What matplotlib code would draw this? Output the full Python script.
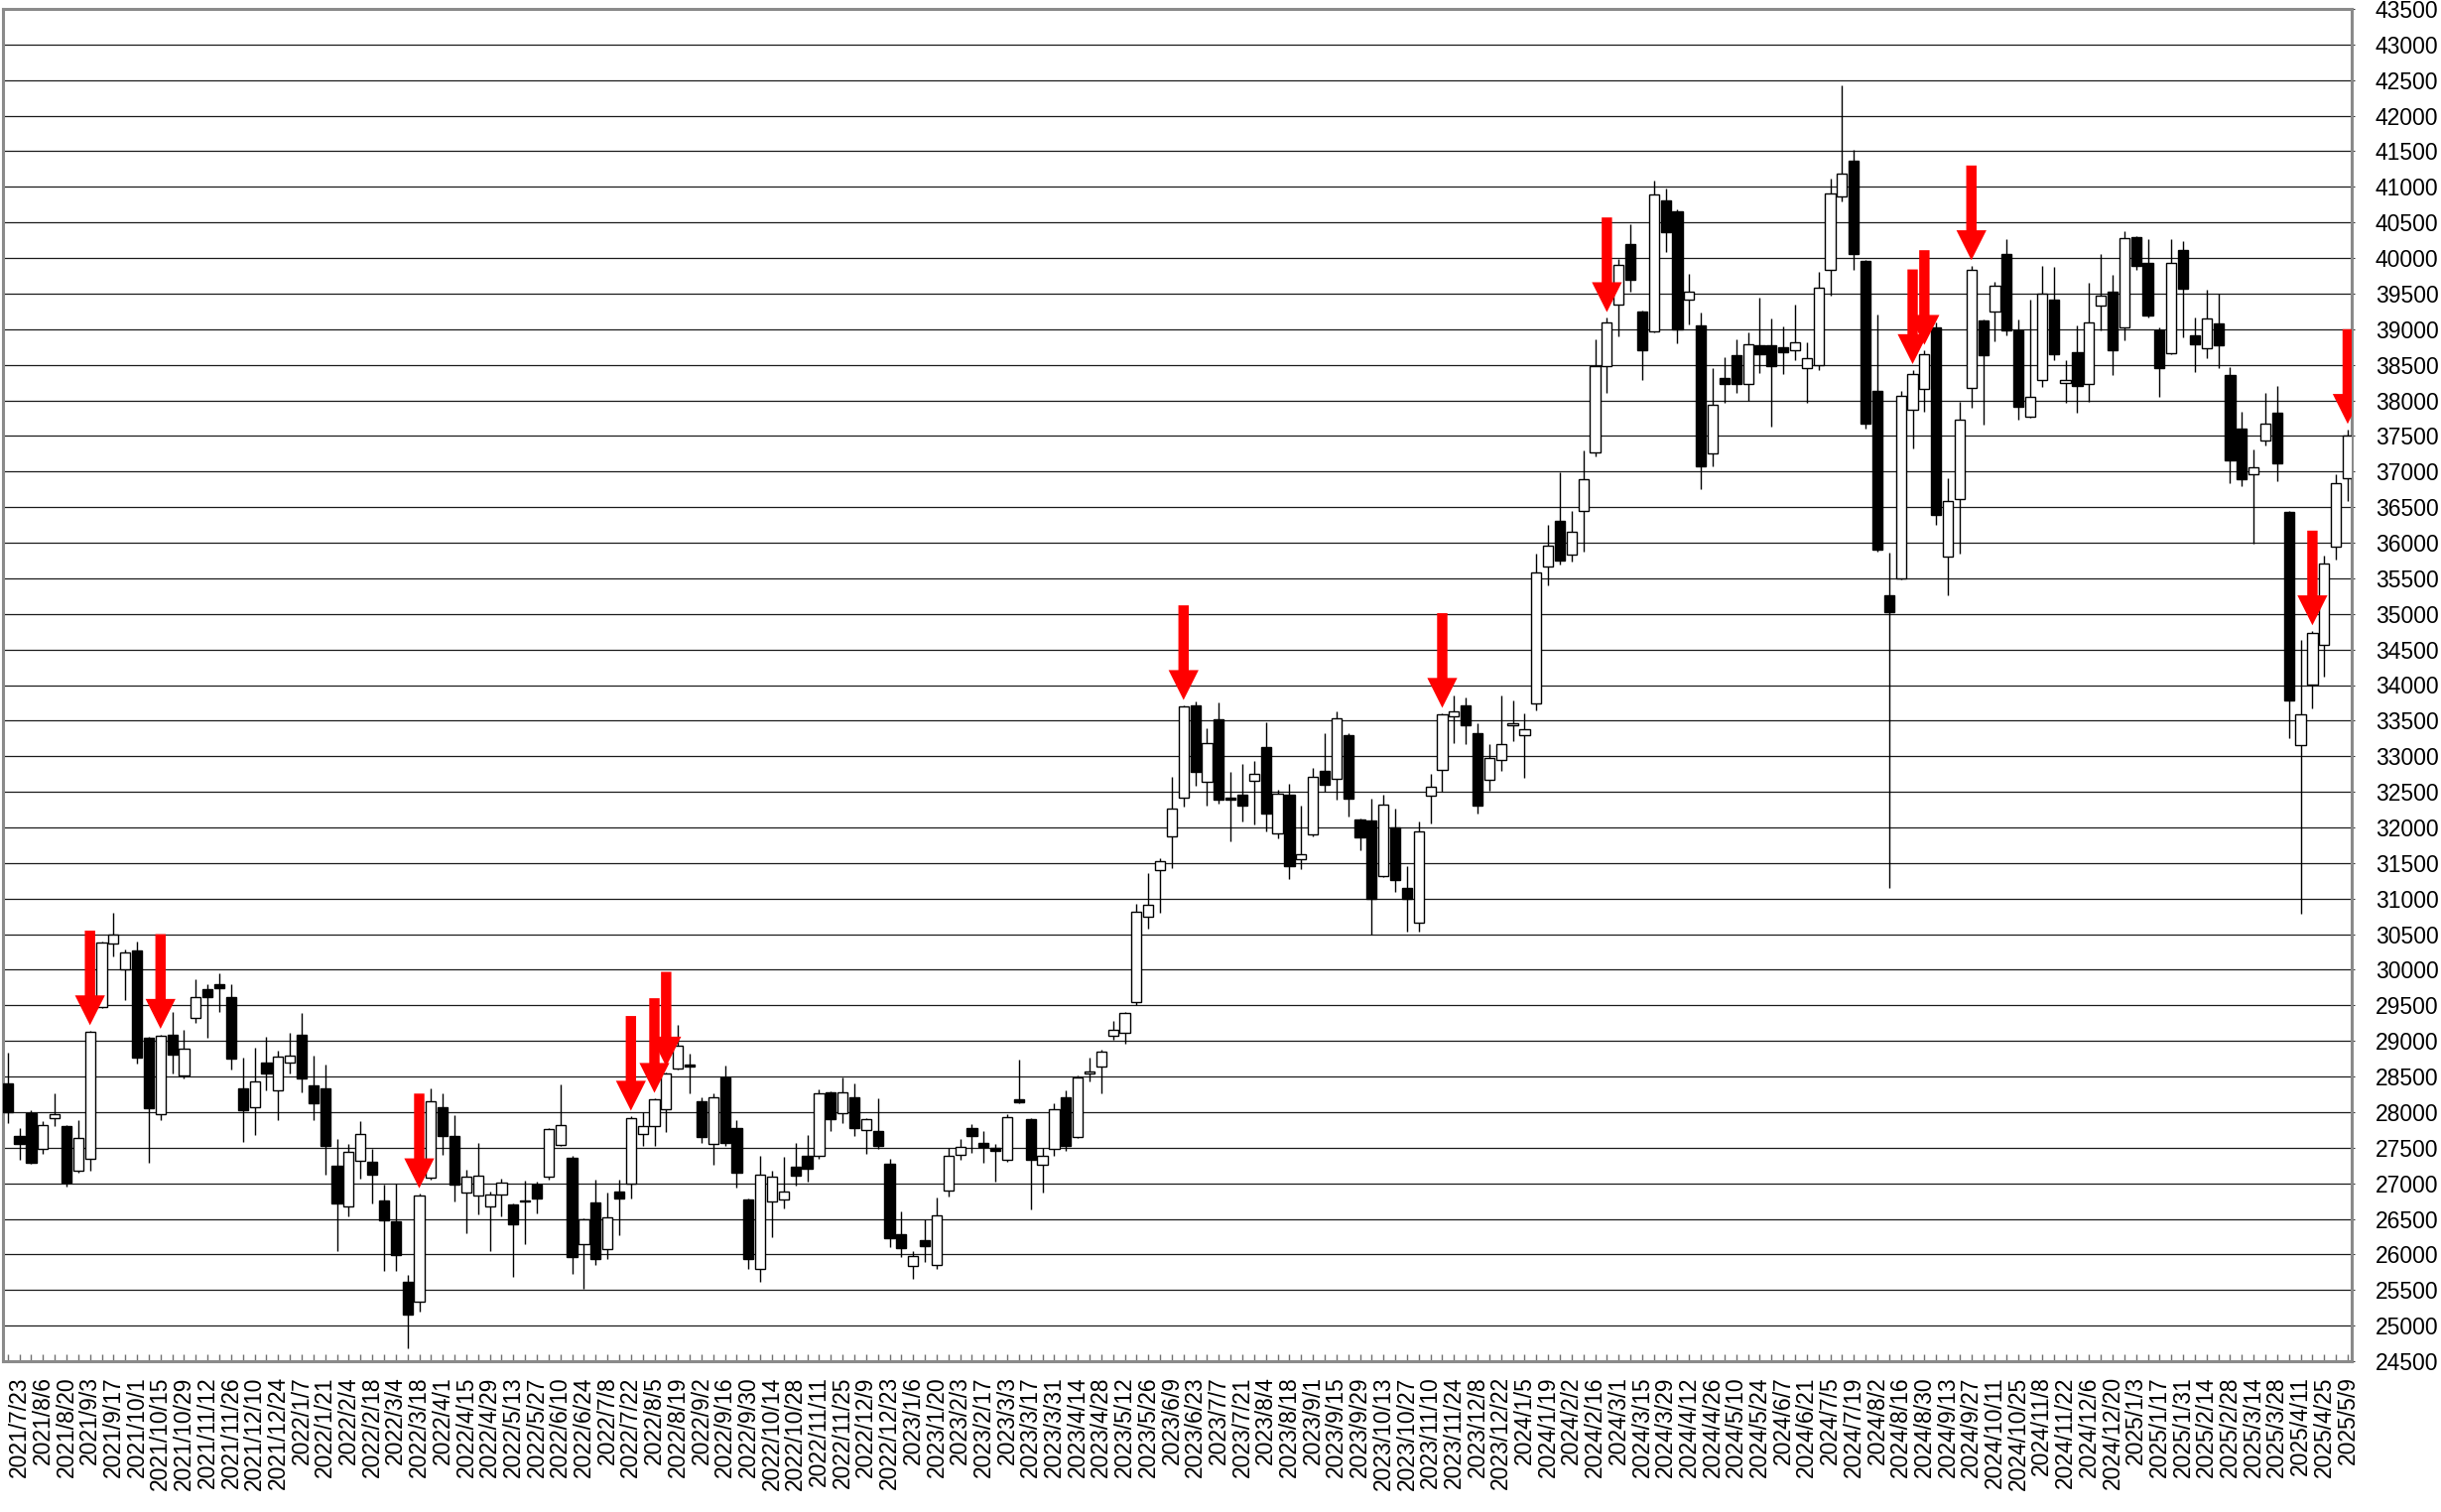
import numpy as np
import pandas as pd
import matplotlib
matplotlib.use("Agg")
import matplotlib.pyplot as plt

# ================ Data (weekly candles, Friday dates) ================
FIRST_WEEK = "2021-07-16"

opens = [
    28410, 27660, 27990, 27490, 27910, 27800, 27180, 27350, 29470, 30370,
    30010, 30270, 29040, 27970, 29090, 28520, 29320, 29730, 29800, 29610,
    28330, 28070, 28690, 28310, 28700, 29090, 28370, 28330, 27250, 26680,
    27320, 27300, 26760, 26460, 25620, 25330, 27080, 28070, 27670, 26870,
    26830, 26680, 26840, 26700, 26760, 26980, 27090, 27540, 27360, 26150,
    26730, 26070, 26880, 27000, 27690, 27800, 28040, 28610, 28660, 28150,
    27550, 28480, 27780, 26770, 25790, 26750, 26770, 27230, 27390, 27390,
    28280, 27990, 28210, 27750, 27740, 27270, 26290, 25840, 26200, 25850,
    26900, 27400, 27775, 27560, 27500, 27330, 28180, 27900, 27260, 27490,
    28210, 27650, 28540, 28640, 29070, 29110, 29550, 30750, 31400, 31880,
    32420, 33720, 32640, 33520, 32400, 32460, 32650, 33130, 31910, 32460,
    31550, 31900, 32800, 32680, 33300, 32110, 32100, 31310, 32000, 31150,
    30660, 32450, 32810, 33560, 33710, 33320, 32670, 32950, 33440, 33290,
    33740, 35660, 36310, 35830, 36440, 37270, 38480, 39340, 40200, 39250,
    38970, 40810, 40650, 39410, 39060, 37260, 38320, 38640, 38230, 38770,
    38770, 38750, 38710, 38460, 38500, 39840, 40870, 41370, 39960, 38140,
    35260, 35500, 37870, 38160, 39030, 35810, 36610, 38180, 39120, 39250,
    40060, 38980, 37770, 38290, 39420, 38250, 38680, 38230, 39330, 39530,
    39030, 40300, 39930, 38990, 38660, 40110, 38920, 38730, 39080, 38350,
    37610, 36960, 37440, 37830, 36430, 33150, 34000, 34560, 35950, 36900,
]
highs = [
    28840, 27780, 28030, 27870, 28270, 27820, 27890, 29140, 30390, 30795,
    30280, 30400, 29060, 29090, 29400, 29150, 29860, 29800, 29950, 29800,
    28760, 28900, 29060, 28860, 29120, 29388, 28800, 28670, 27620, 27550,
    27870, 27480, 26980, 26990, 25710, 26850, 28330, 28270, 27960, 27190,
    27570, 26880, 27070, 26710, 27040, 27020, 27780, 28389, 27380, 26510,
    27050, 26870, 27050, 27940, 28000, 28190, 28560, 29222, 28820, 28210,
    28270, 28650, 27890, 26780, 27390, 27170, 27370, 27570, 27680, 28320,
    28290, 28480, 28400, 27910, 28190, 27340, 26610, 26050, 26500, 26800,
    27500, 27620, 27830, 27730, 27550, 27970, 28734, 27920, 27500, 28120,
    28300, 28510, 28770, 28880, 29280, 29400, 30930, 31360, 31570, 32710,
    33710, 33772, 33400, 33760, 32780, 32890, 32940, 33480, 32530, 32610,
    32300, 32830, 33320, 33630, 33330, 32130, 32400, 32460, 32260, 31460,
    32080, 32750, 33600, 33850, 33820, 33460, 33170, 33850, 33780, 33600,
    35850, 36250, 36990, 36450, 37300, 38860, 39160, 39990, 40470, 39260,
    41087, 40970, 40680, 39780, 39230, 38450, 38610, 38860, 38960, 39440,
    39150, 39040, 39340, 38810, 39810, 41110, 42426, 41520, 39980, 39200,
    35860, 38140, 38430, 38700, 39100, 36910, 37980, 39890, 39130, 39670,
    40270, 39130, 39420, 39890, 39880, 38560, 39060, 39650, 40055, 39770,
    40380, 40310, 40270, 39030, 40260, 40240, 39160, 39560, 39500, 38470,
    37840, 37310, 38110, 38200, 36440, 34640, 34760, 35820, 36960, 37590,
]
lows = [
    27850, 27330, 27280, 27420, 27800, 26950, 27150, 27170, 29460, 30190,
    29570, 28680, 27293, 27890, 28540, 28470, 29260, 29040, 29400, 28600,
    27580, 27680, 28310, 27890, 28540, 28280, 27890, 27120, 26044, 26530,
    27070, 26720, 25775, 25770, 24681, 25200, 27050, 27400, 26750, 26300,
    26560, 26050, 26530, 25680, 26150, 26580, 27050, 27530, 25720, 25520,
    25850, 25940, 26270, 26780, 27530, 27530, 27720, 28600, 28270, 27560,
    27260, 27530, 26940, 25800, 25620, 26240, 26640, 26970, 27030, 27350,
    27740, 27840, 27660, 27410, 27480, 26100, 25960, 25661, 25900, 25800,
    26810, 27330, 27430, 27290, 27020, 27300, 28120, 26632, 26870, 27380,
    27460, 27630, 28430, 28260, 29020, 28960, 29510, 30580, 30800, 31430,
    32290, 32580, 32310, 32330, 31800, 32090, 32040, 31940, 31840, 31280,
    31410, 31880, 32500, 32390, 32150, 31680, 30490, 31300, 31090, 30540,
    30540, 32050, 32500, 33180, 33170, 32200, 32510, 32800, 33210, 32693,
    33650, 35400, 35700, 35740, 35880, 37220, 38100, 38900, 39530, 38290,
    38960, 40080, 38800, 39070, 36760, 37080, 37970, 38100, 37990, 38390,
    37630, 38370, 38560, 37970, 38430, 39470, 40800, 39840, 37610, 35880,
    31156, 35480, 37330, 37840, 36250, 35260, 35850, 37890, 37660, 38830,
    38920, 37730, 37760, 38190, 38560, 37970, 37820, 37980, 38980, 38350,
    38840, 39840, 39160, 38050, 38650, 38890, 38400, 38600, 38460, 36840,
    36800, 35990, 37370, 36870, 33250, 30792, 33670, 34120, 35770, 36590,
]
closes = [
    28003, 27548, 27283, 27820, 27977, 27013, 27641, 29128, 30381, 30500,
    30248, 28771, 28048, 29068, 28804, 28892, 29611, 29609, 29745, 28751,
    28029, 28437, 28545, 28782, 28791, 28478, 28124, 27522, 26717, 27439,
    27696, 27122, 26476, 25985, 25162, 26827, 28149, 27665, 26985, 27093,
    27105, 26847, 27003, 26427, 26739, 26781, 27761, 27824, 25963, 26491,
    25935, 26517, 26788, 27914, 27801, 28175, 28546, 28930, 28641, 27650,
    28214, 27567, 27153, 25937, 27116, 27090, 26890, 27105, 27199, 28263,
    27899, 28283, 27777, 27901, 27527, 26235, 26094, 25973, 26119, 26553,
    27382, 27509, 27670, 27513, 27453, 27927, 28143, 27333, 27385, 28041,
    27518, 28493, 28564, 28856, 29157, 29388, 30808, 30916, 31524, 32265,
    33706, 32781, 33189, 32388, 32391, 32304, 32759, 32192, 32473, 31450,
    31624, 32710, 32606, 33533, 32402, 31857, 30994, 32315, 31259, 30991,
    31949, 32568, 33585, 33625, 33431, 32307, 32970, 33169, 33464, 33377,
    35577, 35963, 35751, 36158, 36897, 38487, 39098, 39910, 39688, 38707,
    40888, 40369, 38992, 39523, 37068, 37934, 38236, 38229, 38787, 38646,
    38487, 38683, 38814, 38596, 39583, 40912, 41190, 40063, 37667, 35909,
    35025, 38062, 38364, 38647, 36391, 36581, 37723, 39829, 38635, 39605,
    38981, 37913, 38053, 39500, 38642, 38283, 38208, 39091, 39470, 38701,
    40281, 39894, 39190, 38451, 39931, 39572, 38787, 39149, 38776, 37155,
    36887, 37053, 37677, 37120, 33780, 33585, 34730, 35705, 36830, 37503,
]

# weeks marked with a red arrow
signal_weeks = [7, 13, 35, 53, 55, 56, 100, 122, 136, 162, 163, 167, 196, 199]

# ================ Layout ================
FIG_W, FIG_H, DPI = 2460, 1524, 100
Y_MIN, Y_MAX, Y_STEP = 24500, 43500, 500
BODY_WIDTH = 0.86
FONT = ["Liberation Sans", "DejaVu Sans"]


def week_labels(n):
    """Friday dates formatted like 2021/7/23"""
    weeks = pd.date_range(FIRST_WEEK, periods=n, freq="W-FRI")
    return [f"{d.year}/{d.month}/{d.day}" for d in weeks]


def draw_candles(ax, o, h, l, c):
    x = np.arange(len(o))
    o, h, l, c = map(np.asarray, (o, h, l, c))
    ax.vlines(x, l, h, color="black", linewidth=1.0, zorder=2)

    up = c >= o
    bottom = np.minimum(o, c)
    height = np.maximum(np.abs(c - o), 25)
    ax.bar(x[up], height[up], BODY_WIDTH, bottom=bottom[up],
           facecolor="white", edgecolor="black", linewidth=1.0, zorder=3)
    ax.bar(x[~up], height[~up], BODY_WIDTH, bottom=bottom[~up],
           facecolor="black", edgecolor="black", linewidth=1.0, zorder=3)


def draw_arrows(ax, idx, h):
    for i in idx:
        tip = h[i] + 80
        ax.arrow(i, tip + 1330, 0, -1330, width=0.88, head_width=2.55,
                 head_length=420, length_includes_head=True,
                 facecolor="#ff0000", edgecolor="none", zorder=5)


# ================ Plot ================
fig = plt.figure(figsize=(FIG_W / DPI, FIG_H / DPI), dpi=DPI)
ax = fig.add_axes([3 / FIG_W, 152 / FIG_H, 2367 / FIG_W, 1363 / FIG_H])

n = len(closes)
draw_candles(ax, opens, highs, lows, closes)
draw_arrows(ax, signal_weeks, highs)

ax.set_xlim(-0.4, n - 1 + 0.34)
ax.set_ylim(Y_MIN, Y_MAX)

# horizontal grid every 500
for v in range(Y_MIN, Y_MAX + 1, Y_STEP):
    ax.axhline(v, color="#1a1a1a", linewidth=0.9, zorder=1)

# right-hand price scale
ax.yaxis.tick_right()
ax.set_yticks(range(Y_MIN, Y_MAX + 1, Y_STEP))
ax.set_yticklabels([str(v) for v in range(Y_MIN, Y_MAX + 1, Y_STEP)],
                   family=FONT, fontsize=16.5)
ax.tick_params(axis="y", direction="out", length=2, pad=15, color="#303030")

# every week gets a tick, every other week a date
labels = week_labels(n)
ax.set_xticks(np.arange(n))
ax.set_xticklabels([lab if i % 2 == 1 else "" for i, lab in enumerate(labels)],
                   rotation=90, va="top", ha="center", family=FONT, fontsize=16.5)
ax.tick_params(axis="x", direction="in", length=5, width=1, color="#707070", pad=11)

for side in ["left", "right", "top", "bottom"]:
    ax.spines[side].set_color("#8a8a8a")
    ax.spines[side].set_linewidth(2.2)

fig.savefig("out.png", dpi=DPI, facecolor="white")
